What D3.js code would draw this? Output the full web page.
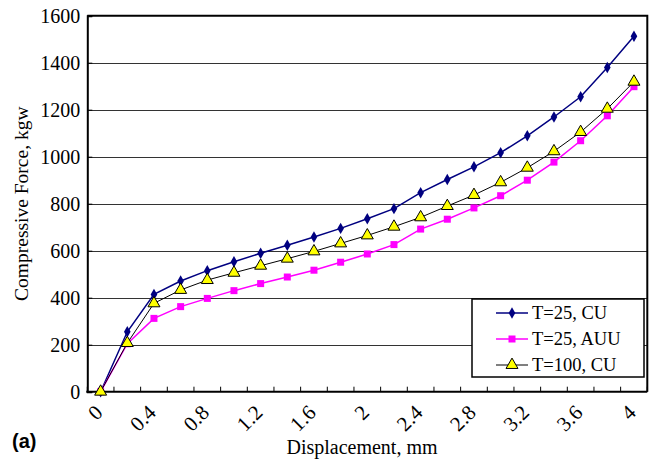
<!DOCTYPE html>
<html>
<head>
<meta charset="utf-8">
<script src="https://cdn.jsdelivr.net/npm/d3@7/dist/d3.min.js"></script>
<style>
    body { margin: 0; background: #fff; }
</style>
</head>
<body>
<div id="chart"></div>
<script>
// Categories on the x axis (displacement, mm) - Excel style category axis
var displacement = ["0", "0.2", "0.4", "0.6", "0.8", "1", "1.2", "1.4", "1.6", "1.8", "2",
                    "2.2", "2.4", "2.6", "2.8", "3", "3.2", "3.4", "3.6", "3.8", "4"];
// Only every other category gets a label
var xTickLabels = ["0", "0.4", "0.8", "1.2", "1.6", "2", "2.4", "2.8", "3.2", "3.6", "4"];
var yTickValues = [0, 200, 400, 600, 800, 1000, 1200, 1400, 1600];

// Series values (compressive force, kgw)
var forceCU25 = [0, 255, 414, 471, 515, 553, 589, 623, 658, 695, 736, 779, 847, 903, 957, 1017, 1089, 1169, 1255, 1380, 1513];
var forceAUU25 = [0, 204, 312, 362, 397, 430, 460, 488, 517, 551, 586, 626, 692, 734, 782, 834, 900, 977, 1068, 1174, 1298];
var forceCU100 = [0, 207, 376, 433, 475, 506, 536, 566, 597, 631, 665, 702, 742, 790, 837, 891, 953, 1023, 1105, 1204, 1319];
var seriesNames = ["T=25, CU", "T=25, AUU", "T=100, CU"];

(function () {
    var width = 650, height = 464;
    var serif = "'Liberation Serif', 'Times New Roman', serif";
    // plot area, worked out from the reference
    var plot = {left: 87.3, top: 15.7, right: 647.3, bottom: 391.7};

    var series = [
        {name: seriesNames[0], values: forceCU25, color: "#000080", width: 1.5, marker: "diamond"},
        {name: seriesNames[1], values: forceAUU25, color: "#ff00ff", width: 1.5, marker: "square"},
        {name: seriesNames[2], values: forceCU100, color: "#000000", width: 1, marker: "triangle"}
    ];

    var x = d3.scaleBand()
        .domain(displacement)
        .range([plot.left, plot.right])
        .padding(0);
    var cx = function (d) { return x(d) + x.bandwidth() / 2; };

    var y = d3.scaleLinear()
        .domain([0, 1600])
        .range([plot.bottom, plot.top]);

    var svg = d3.select("#chart").append("svg")
        .attr("width", width)
        .attr("height", height)
        .attr("font-family", serif);

    // Gridlines
    svg.append("g").selectAll("line")
        .data(yTickValues.filter(function (v) { return v > 0 && v < 1600; }))
        .enter().append("line")
        .attr("x1", plot.left).attr("x2", plot.right)
        .attr("y1", function (d) { return Math.round(y(d)) + 0.5; })
        .attr("y2", function (d) { return Math.round(y(d)) + 0.5; })
        .style("stroke", "#333")
        .style("stroke-width", 1);

    // Plot border (top + right)
    svg.append("path")
        .attr("d", "M" + plot.left + "," + plot.top + "H" + plot.right + "V" + plot.bottom)
        .style("fill", "none")
        .style("stroke", "#000")
        .style("stroke-width", 2);

    // Y axis
    var yAxis = d3.axisLeft(y)
        .tickValues(yTickValues)
        .tickFormat(d3.format("d"))
        .tickSize(-5)
        .tickPadding(7);
    var yg = svg.append("g")
        .attr("transform", "translate(" + plot.left + ",0)")
        .call(yAxis)
        .attr("font-family", serif)
        .attr("font-size", 20);
    yg.select(".domain").style("stroke", "#000").style("stroke-width", 2);
    yg.selectAll("text").style("fill", "#000");

    // X axis - ticks sit between categories, labels at every other category
    var xg = svg.append("g");
    xg.append("line")
        .attr("x1", plot.left - 1).attr("x2", plot.right)
        .attr("y1", plot.bottom).attr("y2", plot.bottom)
        .style("stroke", "#000").style("stroke-width", 2);
    xg.selectAll(".tick")
        .data(displacement.concat(["end"]))
        .enter().append("line")
        .attr("class", "tick")
        .attr("x1", function (d, i) { return plot.left + i * x.bandwidth(); })
        .attr("x2", function (d, i) { return plot.left + i * x.bandwidth(); })
        .attr("y1", plot.bottom)
        .attr("y2", plot.bottom - 5)
        .style("stroke", "#000").style("stroke-width", 1);
    xg.selectAll(".label")
        .data(xTickLabels)
        .enter().append("text")
        .attr("class", "label")
        .attr("transform", function (d) { return "translate(" + (cx(d) - 2) + "," + (plot.bottom + 17) + ") rotate(-45)"; })
        .attr("text-anchor", "end")
        .attr("dy", "0.35em")
        .style("font-size", "21px")
        .text(function (d) { return d; });

    // Axis titles
    svg.append("text")
        .attr("transform", "translate(28," + (plot.top + plot.bottom) / 2 + ") rotate(-90)")
        .attr("text-anchor", "middle")
        .style("font-size", "19.5px")
        .text("Compressive Force, kgw");
    svg.append("text")
        .attr("x", 362).attr("y", 454)
        .attr("text-anchor", "middle")
        .style("font-size", "20px")
        .text("Displacement, mm");
    svg.append("text")
        .attr("x", 12).attr("y", 448)
        .style("font-family", "'Liberation Sans', Arial, sans-serif")
        .style("font-weight", "bold")
        .style("font-size", "20px")
        .text("(a)");

    // Draw a marker of a given type
    var drawMarker = function (sel, s) {
        if (s.marker === "diamond") {
            sel.append("path")
                .attr("d", d3.symbol().type(d3.symbolDiamond).size(38))
                .style("fill", s.color);
        } else if (s.marker === "square") {
            sel.append("rect")
                .attr("x", -3.5).attr("y", -3.5)
                .attr("width", 7).attr("height", 7)
                .style("fill", s.color);
        } else {
            sel.append("path")
                .attr("d", d3.symbol().type(d3.symbolTriangle).size(62))
                .style("fill", "#ffff00")
                .style("stroke", "#000")
                .style("stroke-width", 1);
        }
    };

    var line = d3.line()
        .x(function (d, i) { return cx(displacement[i]); })
        .y(function (d) { return y(d); });

    series.forEach(function (s) {
        var g = svg.append("g");
        g.append("path")
            .datum(s.values)
            .attr("d", line)
            .style("fill", "none")
            .style("stroke", s.color)
            .style("stroke-width", s.width);
        g.selectAll(".pt")
            .data(s.values)
            .enter().append("g")
            .attr("class", "pt")
            .attr("transform", function (d, i) { return "translate(" + cx(displacement[i]) + "," + y(d) + ")"; })
            .each(function () { drawMarker(d3.select(this), s); });
    });

    // Legend
    var legend = svg.append("g").attr("transform", "translate(472,299)");
    legend.append("rect")
        .attr("width", 172).attr("height", 78)
        .style("fill", "#fff")
        .style("stroke", "#000")
        .style("stroke-width", 1.5);
    series.forEach(function (s, i) {
        var row = legend.append("g").attr("transform", "translate(0," + (14 + i * 26) + ")");
        row.append("line")
            .attr("x1", 24).attr("x2", 56)
            .style("stroke", s.color)
            .style("stroke-width", s.width);
        drawMarker(row.append("g").attr("transform", "translate(40,0)"), s);
        row.append("text")
            .attr("x", 60).attr("dy", "0.35em")
            .style("font-size", "18.5px")
            .text(s.name);
    });
}());
</script>
</body>
</html>
